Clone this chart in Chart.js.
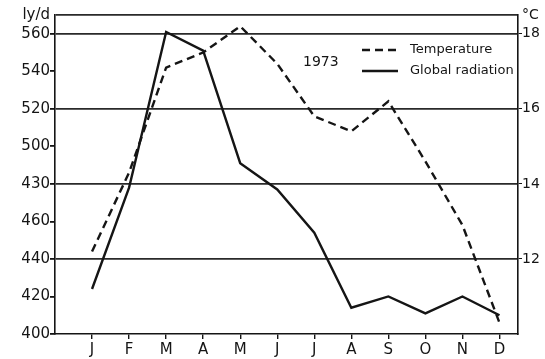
<!DOCTYPE html>
<html>
<head>
<meta charset="utf-8">
<script src="https://cdn.jsdelivr.net/npm/chart.js@4/dist/chart.umd.min.js"></script>
<style>
  html, body { margin: 0; padding: 0; background: #fff; }
  canvas { display: block; }
</style>
</head>
<body>
<canvas id="c" width="545" height="359"></canvas>
<script>
// Monthly means, 1973
const months = ['J', 'F', 'M', 'A', 'M', 'J', 'J', 'A', 'S', 'O', 'N', 'D'];
const radiation = [424, 478, 561, 551, 491, 477, 454, 414, 420, 411, 420, 410];      // ly/d
const temperature = [12.2, 14.3, 17.1, 17.5, 18.2, 17.2, 15.8, 15.4, 16.2, 14.6, 12.9, 10.3]; // °C

// Axis ticks (the 480 line carries the printed label "430")
const radiationTicks = [400, 420, 440, 460, 480, 500, 520, 540, 560, 570];
const radiationTickLabels = ['400', '420', '440', '460', '430', '500', '520', '540', '560', 'ly/d'];
const ruledValues = [440, 480, 520, 560, 570];
const tempTicks = [12, 14, 16, 18, 18.5];
const tempTickLabels = ['12', '14', '16', '18', '°C'];
const monthTicks = [1, 2, 3, 4, 5, 6, 7, 8, 9, 10, 11, 12];
const yearLabel = '1973';

const INK = '#151515';
const FONT = '"DejaVu Sans", sans-serif';

const toPoints = arr => arr.map((v, i) => ({ x: monthTicks[i], y: v }));

// Year caption and line key placed inside the plot area
const inlineLegend = {
  id: 'inlineLegend',
  afterDatasetsDraw(chart) {
    const { ctx, chartArea: a } = chart;
    ctx.save();
    ctx.fillStyle = INK;
    ctx.textBaseline = 'middle';
    ctx.textAlign = 'left';
    ctx.font = '14px ' + FONT;
    ctx.fillText(yearLabel, a.left + 248, a.top + 47);
    ctx.font = '13px ' + FONT;
    chart.data.datasets.forEach((ds, i) => {
      const y = a.top + 35 + i * 21;
      ctx.strokeStyle = ds.borderColor;
      ctx.lineWidth = ds.borderWidth;
      ctx.setLineDash(ds.borderDash || []);
      ctx.beginPath();
      ctx.moveTo(a.left + 307, y);
      ctx.lineTo(a.left + 343, y);
      ctx.stroke();
      ctx.setLineDash([]);
      ctx.fillText(ds.label, a.left + 355, y);
    });
    ctx.restore();
  }
};

const fixedTicks = values => scale => { scale.ticks = values.map(v => ({ value: v })); };

new Chart(document.getElementById('c'), {
  type: 'line',
  data: {
    datasets: [
      {
        label: 'Temperature',
        data: toPoints(temperature),
        yAxisID: 'y2',
        borderColor: INK,
        borderWidth: 2.4,
        borderDash: [8, 5],
        pointRadius: 0,
        tension: 0,
        fill: false
      },
      {
        label: 'Global radiation',
        data: toPoints(radiation),
        yAxisID: 'y',
        borderColor: INK,
        borderWidth: 2.4,
        pointRadius: 0,
        tension: 0,
        fill: false
      }
    ]
  },
  options: {
    responsive: false,
    animation: false,
    devicePixelRatio: 1,
    layout: { padding: { top: 15, left: 0, right: 0, bottom: 0 } },
    plugins: { legend: { display: false }, tooltip: { enabled: false } },
    scales: {
      x: {
        type: 'linear',
        min: 0,
        max: 12.5,
        afterBuildTicks: fixedTicks(monthTicks),
        afterFit: s => { s.height = 25; },
        border: { display: true, color: INK, width: 1.6 },
        grid: { drawOnChartArea: false, drawTicks: true, tickLength: 5, tickColor: INK, lineWidth: 1.4 },
        ticks: {
          autoSkip: false,
          maxRotation: 0,
          padding: 2,
          color: INK,
          font: { family: FONT, size: 15 },
          callback: v => months[monthTicks.indexOf(v)]
        }
      },
      y: {
        type: 'linear',
        position: 'left',
        min: 400,
        max: 570,
        afterBuildTicks: fixedTicks(radiationTicks),
        afterFit: s => { s.width = 55; },
        border: { display: true, color: INK, width: 1.6 },
        grid: {
          drawTicks: true,
          tickLength: 5,
          lineWidth: 1.8,
          color: ctx => ruledValues.includes(ctx.tick.value) ? '#2a2a2a' : 'rgba(0,0,0,0)',
          tickColor: ctx => ctx.tick.value === 570 ? 'rgba(0,0,0,0)' : INK
        },
        ticks: {
          padding: 0,
          color: INK,
          font: { family: FONT, size: 15 },
          callback: v => radiationTickLabels[radiationTicks.indexOf(v)]
        }
      },
      y2: {
        type: 'linear',
        position: 'right',
        min: 10,
        max: 18.5,
        afterBuildTicks: fixedTicks(tempTicks),
        afterFit: s => { s.width = 27; },
        border: { display: true, color: INK, width: 1.6 },
        grid: {
          drawOnChartArea: false,
          drawTicks: true,
          tickLength: 4,
          tickColor: ctx => ctx.tick.value === 18.5 ? 'rgba(0,0,0,0)' : INK
        },
        ticks: {
          padding: 0,
          color: INK,
          font: { family: FONT, size: 14 },
          callback: v => tempTickLabels[tempTicks.indexOf(v)]
        }
      }
    }
  },
  plugins: [inlineLegend]
});
</script>
</body>
</html>
